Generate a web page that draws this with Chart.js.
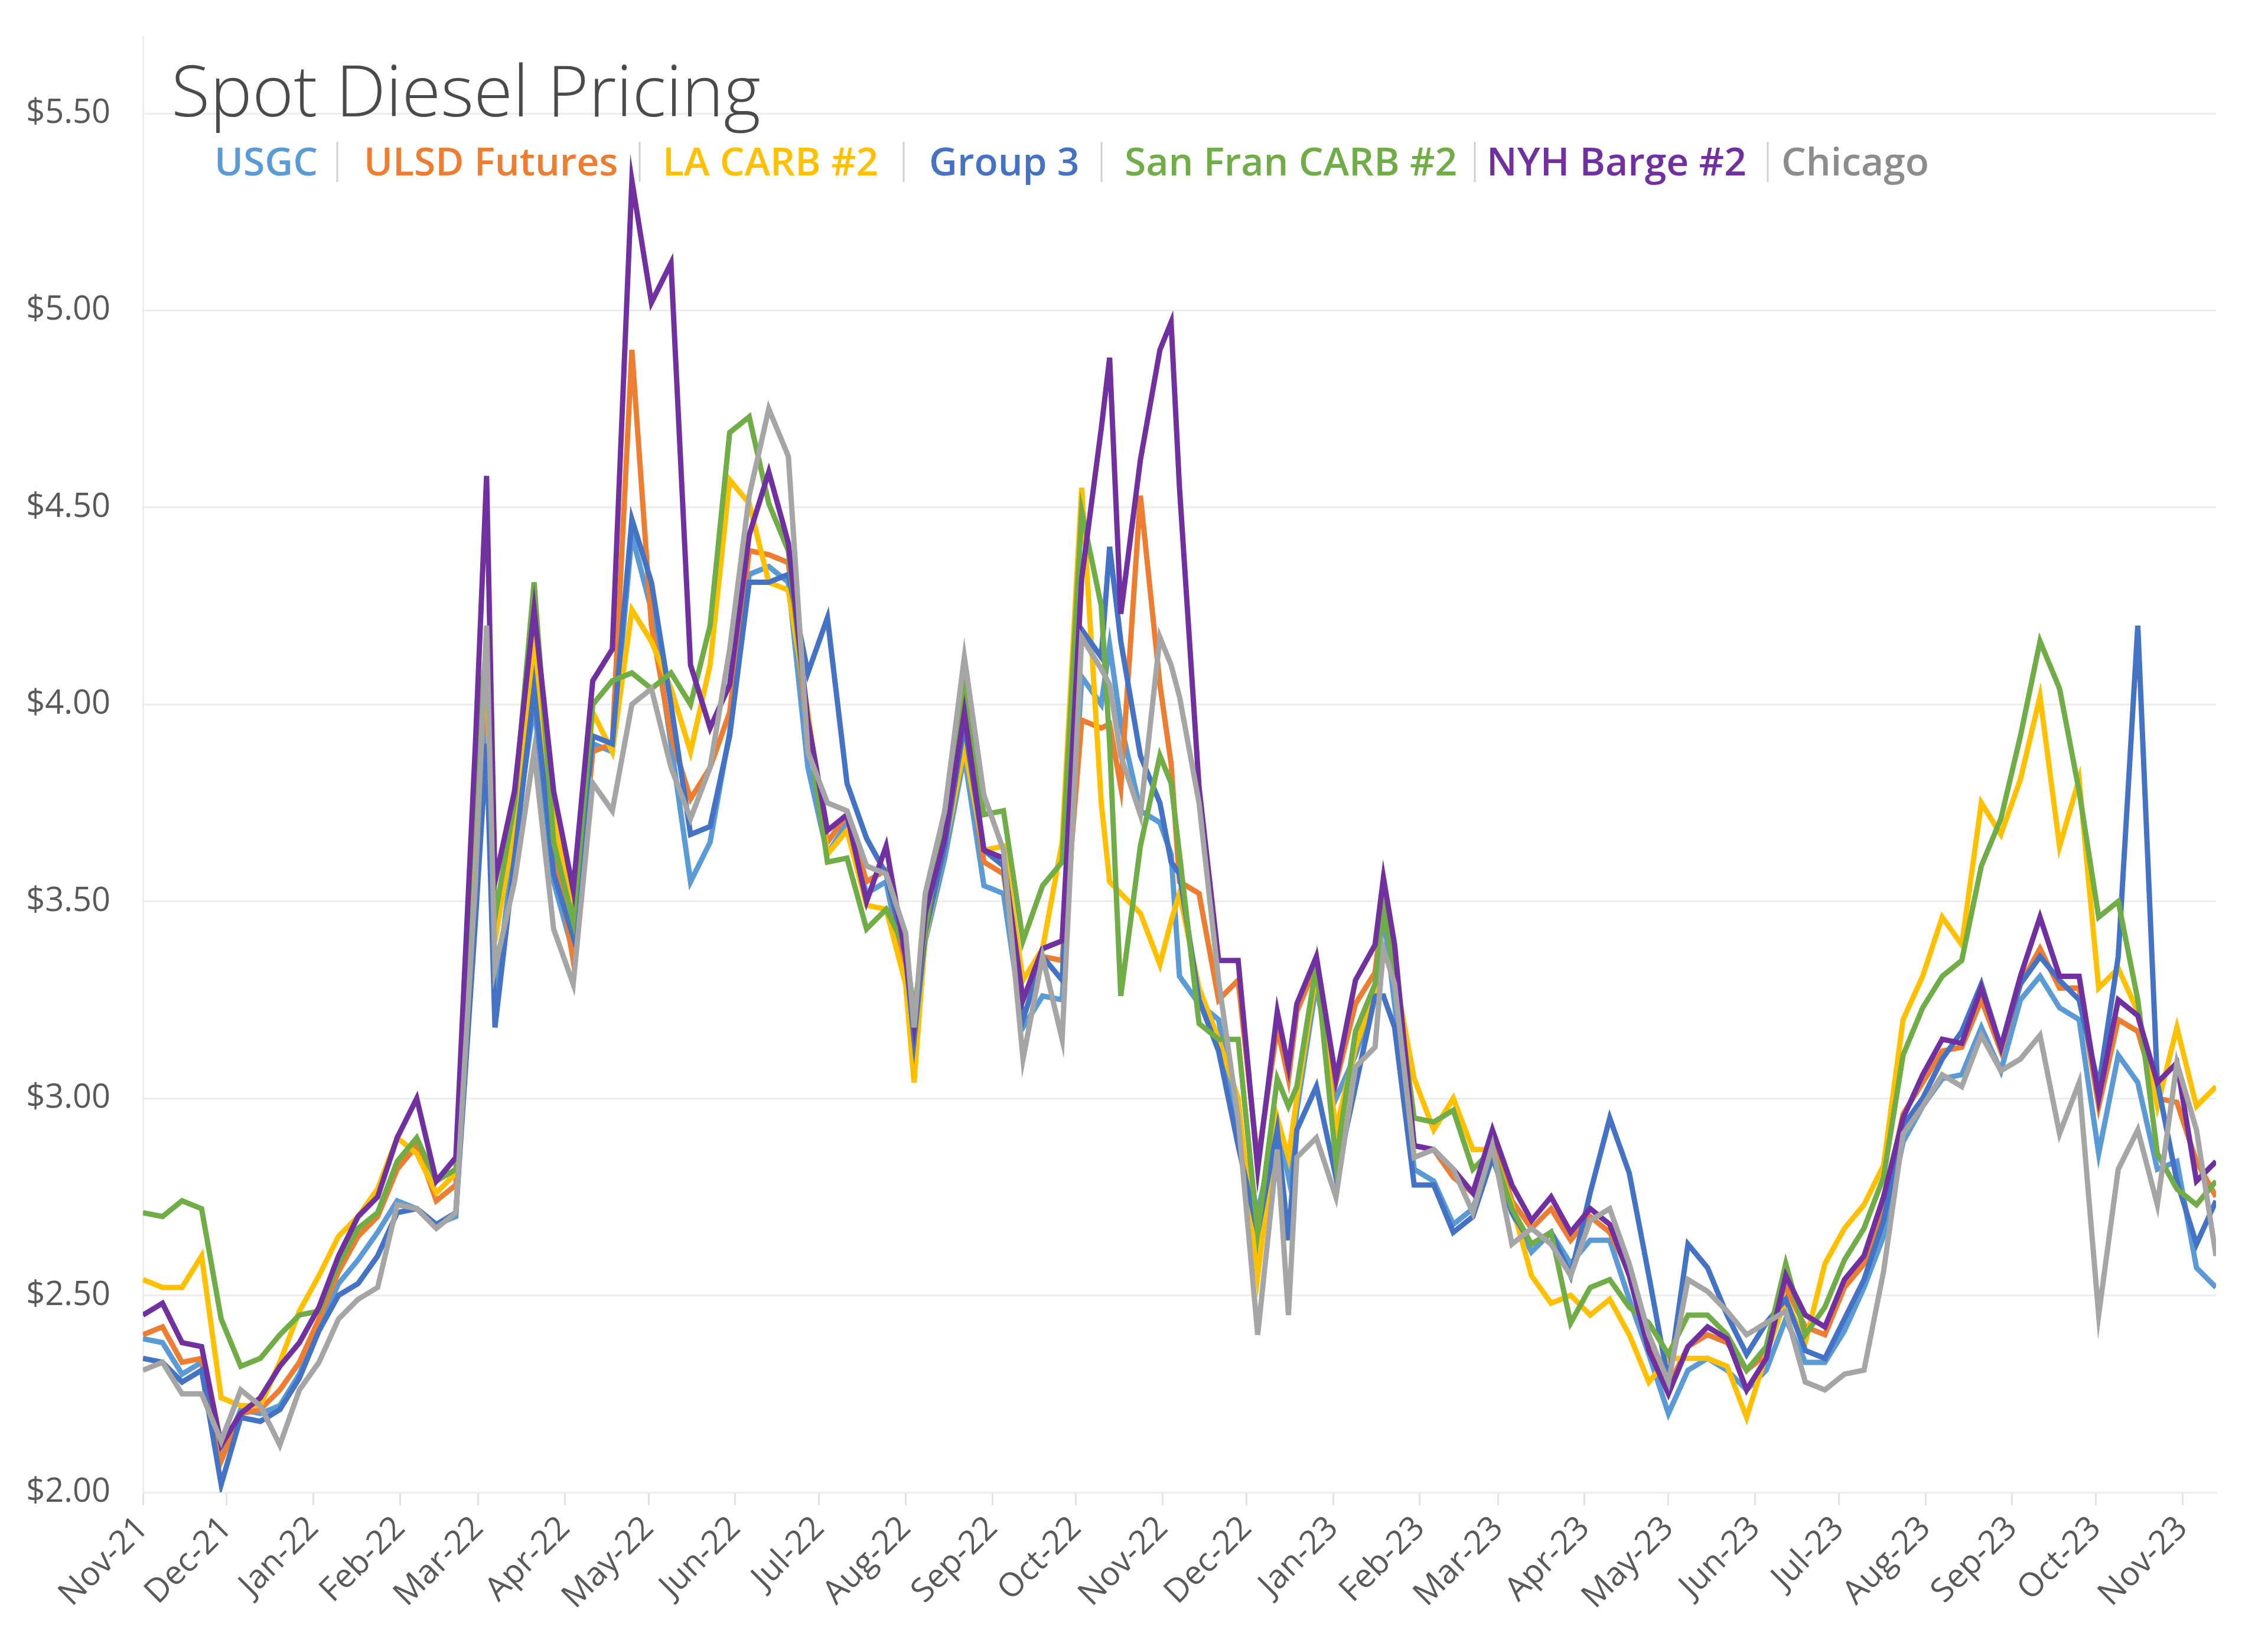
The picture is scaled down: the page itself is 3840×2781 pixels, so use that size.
<!DOCTYPE html>
<html>
<head>
<meta charset="utf-8">
<title>Spot Diesel Pricing</title>
<script src="https://cdn.jsdelivr.net/npm/chart.js@4.4.0/dist/chart.umd.min.js"></script>
<style>
  html, body { margin: 0; padding: 0; background: #ffffff; }
  canvas { display: block; }
</style>
</head>
<body>
<canvas id="diesel-chart" width="3840" height="2781"></canvas>
<script>
/* Sample dates (about weekly, plus a few spike days) */
let sampleDates = [
  '2021-11-01', '2021-11-08', '2021-11-15', '2021-11-22', '2021-11-29', '2021-12-06', '2021-12-13', '2021-12-20',
  '2021-12-27', '2022-01-03', '2022-01-10', '2022-01-17', '2022-01-24', '2022-01-31', '2022-02-07', '2022-02-14',
  '2022-02-21', '2022-02-28', '2022-03-04', '2022-03-07', '2022-03-14', '2022-03-21', '2022-03-28', '2022-04-04',
  '2022-04-11', '2022-04-18', '2022-04-25', '2022-05-02', '2022-05-09', '2022-05-16', '2022-05-23', '2022-05-30',
  '2022-06-06', '2022-06-13', '2022-06-20', '2022-06-27', '2022-07-04', '2022-07-11', '2022-07-18', '2022-07-25',
  '2022-08-01', '2022-08-04', '2022-08-08', '2022-08-15', '2022-08-22', '2022-08-29', '2022-09-05', '2022-09-12',
  '2022-09-19', '2022-09-26', '2022-10-03', '2022-10-10', '2022-10-13', '2022-10-17', '2022-10-24', '2022-10-31',
  '2022-11-04', '2022-11-07', '2022-11-14', '2022-11-21', '2022-11-28', '2022-12-05', '2022-12-12', '2022-12-16',
  '2022-12-19', '2022-12-26', '2023-01-02', '2023-01-09', '2023-01-16', '2023-01-19', '2023-01-23', '2023-01-30',
  '2023-02-06', '2023-02-13', '2023-02-20', '2023-02-27', '2023-03-06', '2023-03-13', '2023-03-20', '2023-03-27',
  '2023-04-03', '2023-04-10', '2023-04-17', '2023-04-24', '2023-05-01', '2023-05-08', '2023-05-15', '2023-05-22',
  '2023-05-29', '2023-06-05', '2023-06-12', '2023-06-19', '2023-06-26', '2023-07-03', '2023-07-10', '2023-07-17',
  '2023-07-24', '2023-07-31', '2023-08-07', '2023-08-14', '2023-08-21', '2023-08-28', '2023-09-04', '2023-09-11',
  '2023-09-18', '2023-09-25', '2023-10-02', '2023-10-09', '2023-10-16', '2023-10-23', '2023-10-30', '2023-11-06',
  '2023-11-13'
]

/* Prices per series, $/gal, one value per sample date */
let usgc = [
  2.39, 2.38, 2.30, 2.33, 2.09, 2.21, 2.20, 2.22, 2.30, 2.42, 2.53, 2.59, 2.66, 2.74, 2.72, 2.68,
  2.70, 3.65, 3.95, 3.25, 3.65, 4.00, 3.55, 3.37, 3.90, 3.88, 4.43, 4.24, 3.90, 3.55, 3.65, 3.93,
  4.33, 4.35, 4.31, 3.84, 3.62, 3.70, 3.52, 3.55, 3.30, 3.13, 3.40, 3.61, 3.87, 3.54, 3.52, 3.18,
  3.26, 3.25, 4.07, 4.00, 4.15, 3.95, 3.73, 3.70, 3.62, 3.31, 3.24, 3.20, 2.92, 2.71, 2.94, 2.80,
  2.97, 3.29, 3.00, 3.11, 3.26, 3.47, 3.24, 2.82, 2.79, 2.68, 2.72, 2.86, 2.71, 2.61, 2.66, 2.58,
  2.64, 2.64, 2.49, 2.35, 2.20, 2.31, 2.34, 2.31, 2.26, 2.31, 2.44, 2.33, 2.33, 2.41, 2.52, 2.65,
  2.89, 2.98, 3.05, 3.06, 3.18, 3.07, 3.25, 3.31, 3.23, 3.20, 2.86, 3.11, 3.04, 2.82, 2.84, 2.57,
  2.52
]
let ulsdFutures = [
  2.40, 2.42, 2.33, 2.34, 2.08, 2.20, 2.21, 2.26, 2.33, 2.44, 2.56, 2.65, 2.70, 2.82, 2.88, 2.74,
  2.78, 3.75, 4.05, 3.45, 3.70, 4.16, 3.65, 3.35, 3.88, 3.90, 4.90, 4.20, 3.92, 3.76, 3.84, 3.98,
  4.39, 4.38, 4.36, 3.92, 3.65, 3.72, 3.55, 3.58, 3.33, 3.17, 3.43, 3.64, 3.94, 3.60, 3.57, 3.25,
  3.36, 3.35, 3.96, 3.94, 3.95, 3.79, 4.53, 4.05, 3.85, 3.55, 3.52, 3.25, 3.30, 2.84, 3.18, 3.05,
  3.22, 3.34, 3.04, 3.24, 3.32, 3.50, 3.32, 2.88, 2.87, 2.80, 2.76, 2.90, 2.74, 2.67, 2.72, 2.64,
  2.70, 2.66, 2.56, 2.39, 2.27, 2.37, 2.40, 2.38, 2.31, 2.35, 2.52, 2.42, 2.40, 2.52, 2.58, 2.73,
  2.96, 3.04, 3.12, 3.13, 3.25, 3.12, 3.29, 3.38, 3.28, 3.28, 2.98, 3.20, 3.17, 3.00, 2.99, 2.84,
  2.75
]
let laCarb2 = [
  2.54, 2.52, 2.52, 2.60, 2.24, 2.22, 2.22, 2.33, 2.46, 2.55, 2.65, 2.70, 2.77, 2.90, 2.86, 2.76,
  2.81, 3.80, 4.10, 3.40, 3.69, 4.14, 3.71, 3.47, 3.98, 3.88, 4.24, 4.16, 4.04, 3.88, 4.10, 4.57,
  4.51, 4.31, 4.29, 3.98, 3.62, 3.68, 3.49, 3.48, 3.29, 3.04, 3.41, 3.64, 3.89, 3.63, 3.64, 3.30,
  3.38, 3.65, 4.55, 3.75, 3.55, 3.52, 3.47, 3.34, 3.45, 3.52, 3.28, 3.15, 3.00, 2.55, 2.95, 2.85,
  3.00, 3.32, 2.92, 3.13, 3.27, 3.50, 3.32, 3.05, 2.92, 3.00, 2.87, 2.87, 2.73, 2.55, 2.48, 2.50,
  2.45, 2.49, 2.40, 2.28, 2.34, 2.34, 2.34, 2.32, 2.19, 2.35, 2.49, 2.38, 2.58, 2.67, 2.73, 2.83,
  3.20, 3.31, 3.46, 3.39, 3.75, 3.67, 3.81, 4.02, 3.64, 3.81, 3.28, 3.33, 3.22, 2.98, 3.18, 2.98,
  3.03
]
let group3 = [
  2.34, 2.33, 2.28, 2.31, 2.02, 2.19, 2.18, 2.21, 2.29, 2.41, 2.50, 2.53, 2.60, 2.71, 2.72, 2.68,
  2.71, 3.45, 3.90, 3.18, 3.61, 4.04, 3.57, 3.41, 3.92, 3.90, 4.47, 4.31, 4.00, 3.67, 3.69, 3.92,
  4.31, 4.31, 4.33, 4.08, 4.22, 3.80, 3.66, 3.57, 3.36, 3.15, 3.42, 3.64, 3.95, 3.63, 3.59, 3.20,
  3.36, 3.30, 4.19, 4.12, 4.40, 4.16, 3.87, 3.75, 3.60, 3.57, 3.25, 3.12, 2.88, 2.66, 2.92, 2.64,
  2.92, 3.03, 2.80, 3.03, 3.26, 3.26, 3.18, 2.78, 2.78, 2.66, 2.70, 2.85, 2.71, 2.63, 2.66, 2.55,
  2.76, 2.95, 2.81, 2.55, 2.28, 2.63, 2.57, 2.45, 2.35, 2.43, 2.49, 2.36, 2.34, 2.44, 2.54, 2.69,
  2.93, 3.00, 3.10, 3.17, 3.29, 3.13, 3.29, 3.36, 3.30, 3.25, 3.03, 3.36, 4.20, 3.04, 2.79, 2.63,
  2.74
]
let sanFranCarb2 = [
  2.71, 2.70, 2.74, 2.72, 2.44, 2.32, 2.34, 2.40, 2.45, 2.46, 2.58, 2.67, 2.71, 2.84, 2.90, 2.79,
  2.82, 3.85, 4.15, 3.46, 3.75, 4.31, 3.65, 3.45, 4.00, 4.06, 4.08, 4.04, 4.08, 4.00, 4.20, 4.69,
  4.73, 4.51, 4.39, 3.94, 3.60, 3.61, 3.43, 3.48, 3.38, 3.22, 3.43, 3.73, 4.03, 3.72, 3.73, 3.40,
  3.54, 3.60, 4.49, 4.25, 3.90, 3.26, 3.64, 3.87, 3.80, 3.62, 3.19, 3.15, 3.15, 2.66, 3.05, 2.98,
  3.03, 3.34, 2.84, 3.17, 3.29, 3.48, 3.32, 2.95, 2.94, 2.97, 2.82, 2.87, 2.72, 2.63, 2.66, 2.43,
  2.52, 2.54, 2.47, 2.43, 2.35, 2.45, 2.45, 2.40, 2.31, 2.37, 2.58, 2.40, 2.47, 2.59, 2.67, 2.80,
  3.11, 3.23, 3.31, 3.35, 3.59, 3.71, 3.92, 4.16, 4.04, 3.78, 3.46, 3.50, 3.25, 2.86, 2.77, 2.73,
  2.79
]
let nyhBarge2 = [
  2.45, 2.48, 2.38, 2.37, 2.12, 2.20, 2.24, 2.32, 2.38, 2.47, 2.60, 2.70, 2.75, 2.90, 3.00, 2.79,
  2.85, 3.90, 4.58, 3.55, 3.78, 4.24, 3.78, 3.53, 4.06, 4.14, 5.33, 5.02, 5.12, 4.10, 3.94, 4.05,
  4.43, 4.59, 4.41, 3.96, 3.68, 3.72, 3.50, 3.64, 3.36, 3.19, 3.47, 3.66, 3.98, 3.63, 3.61, 3.25,
  3.38, 3.40, 4.32, 4.70, 4.88, 4.23, 4.62, 4.90, 4.97, 4.55, 3.79, 3.35, 3.35, 2.82, 3.22, 3.08,
  3.24, 3.36, 3.05, 3.30, 3.39, 3.56, 3.39, 2.88, 2.87, 2.82, 2.76, 2.92, 2.78, 2.69, 2.75, 2.66,
  2.72, 2.68, 2.55, 2.36, 2.25, 2.37, 2.42, 2.39, 2.26, 2.34, 2.55, 2.45, 2.42, 2.54, 2.60, 2.75,
  2.95, 3.06, 3.15, 3.14, 3.28, 3.13, 3.31, 3.46, 3.31, 3.31, 3.00, 3.25, 3.21, 3.04, 3.09, 2.79,
  2.84
]
let chicago = [
  2.31, 2.33, 2.25, 2.25, 2.13, 2.26, 2.22, 2.12, 2.26, 2.33, 2.44, 2.49, 2.52, 2.73, 2.72, 2.67,
  2.71, 3.55, 4.20, 3.33, 3.55, 3.88, 3.43, 3.29, 3.80, 3.73, 4.00, 4.04, 3.84, 3.71, 3.84, 4.14,
  4.53, 4.75, 4.63, 3.88, 3.75, 3.73, 3.59, 3.57, 3.42, 3.18, 3.52, 3.73, 4.12, 3.77, 3.63, 3.10,
  3.36, 3.15, 4.17, 4.09, 4.05, 3.87, 3.72, 4.17, 4.10, 4.02, 3.75, 3.30, 2.95, 2.40, 2.87, 2.45,
  2.85, 2.90, 2.75, 3.08, 3.13, 3.38, 3.29, 2.85, 2.87, 2.82, 2.71, 2.88, 2.63, 2.67, 2.63, 2.55,
  2.69, 2.72, 2.58, 2.40, 2.28, 2.54, 2.51, 2.46, 2.40, 2.43, 2.46, 2.28, 2.26, 2.30, 2.31, 2.56,
  2.91, 2.98, 3.06, 3.03, 3.16, 3.07, 3.10, 3.16, 2.91, 3.04, 2.45, 2.82, 2.92, 2.73, 3.09, 2.92,
  2.60
]

/* Axis ticks */
let tickDates = [
  '2021-11-01', '2021-12-01', '2022-01-01', '2022-02-01', '2022-03-01', '2022-04-01', '2022-05-01',
  '2022-06-01', '2022-07-01', '2022-08-01', '2022-09-01', '2022-10-01', '2022-11-01', '2022-12-01',
  '2023-01-01', '2023-02-01', '2023-03-01', '2023-04-01', '2023-05-01', '2023-06-01', '2023-07-01',
  '2023-08-01', '2023-09-01', '2023-10-01', '2023-11-01'
]
let tickLabels = [
  'Nov-21', 'Dec-21', 'Jan-22', 'Feb-22', 'Mar-22', 'Apr-22', 'May-22', 'Jun-22', 'Jul-22',
  'Aug-22', 'Sep-22', 'Oct-22', 'Nov-22', 'Dec-22', 'Jan-23', 'Feb-23', 'Mar-23', 'Apr-23',
  'May-23', 'Jun-23', 'Jul-23', 'Aug-23', 'Sep-23', 'Oct-23', 'Nov-23'
]
let priceTicks = [2.00, 2.50, 3.00, 3.50, 4.00, 4.50, 5.00, 5.50]

let seriesNames = ['USGC', 'ULSD Futures', 'LA CARB #2', 'Group 3', 'San Fran CARB #2', 'NYH Barge #2', 'Chicago']
let seriesValues = [usgc, ulsdFutures, laCarb2, group3, sanFranCarb2, nyhBarge2, chicago]
let seriesColors = ['#5B9BD5', '#ED7D31', '#FFC000', '#4472C4', '#70AD47', '#7030A0', '#A5A5A5']

// days since the first date, used as the x value
function dayNumber(s) {
    let p = s.split('-')
    return (Date.UTC(+p[0], +p[1] - 1, +p[2]) - Date.UTC(2021, 10, 1)) / 86400000
}

let fontFamily = "'Open Sans', 'Noto Sans', sans-serif"
let labelColor = '#595959'
let gridColor = '#ECECEC'

// building the datasets, later series are drawn on top (like Excel)
let datasets = seriesNames.map(function(name, i) {
    return {
        label: name,
        data: sampleDates.map((d, j) => ({ x: dayNumber(d), y: seriesValues[i][j] })),
        borderColor: seriesColors[i],
        backgroundColor: seriesColors[i],
        borderWidth: 9,
        pointRadius: 0,
        tension: 0,
        order: seriesNames.length - i
    }
})

// title and the text legend with gray bars between names
let headerPlugin = {
    id: 'header',
    afterDraw(chart) {
        let ctx = chart.ctx
        ctx.save()
        ctx.fillStyle = '#4A4A4A'
        ctx.font = '300 120px ' + fontFamily
        ctx.textBaseline = 'alphabetic'
        ctx.textAlign = 'left'
        ctx.fillText('Spot Diesel Pricing', 290, 197, 1004)

        let starts = [363, 616, 1122, 1573, 1904, 2517, 3016]
        let widths = [175, 432, 369, 257, 574, 441, 253]
        let bars = [571, 1083, 1530, 1865, 2497, 2993]
        ctx.font = '600 66px ' + fontFamily
        seriesNames.forEach(function(name, i) {
            ctx.fillStyle = i == 6 ? '#8C8C8C' : seriesColors[i]
            ctx.fillText(name, starts[i], 297, widths[i])
        })
        ctx.strokeStyle = '#D0D0D0'
        ctx.lineWidth = 3
        bars.forEach(function(x) {
            ctx.beginPath()
            ctx.moveTo(x, 240)
            ctx.lineTo(x, 308)
            ctx.stroke()
        })
        ctx.restore()
    }
}

let chartCanvas = document.querySelector('#diesel-chart')
let ctx = chartCanvas.getContext('2d')

let dieselChart = new Chart(ctx, {
    type: 'line',
    data: { datasets: datasets },
    options: {
        responsive: false,
        animation: false,
        devicePixelRatio: 1,
        layout: { padding: { top: 62, right: 88, left: 0, bottom: 0 } },
        plugins: {
            legend: { display: false },
            tooltip: { enabled: false },
            title: { display: false }
        },
        scales: {
            x: {
                type: 'linear',
                min: 0,
                max: dayNumber('2023-11-13'),
                afterBuildTicks: function(scale) {
                    scale.ticks = tickDates.map(d => ({ value: dayNumber(d) }))
                },
                afterFit: function(scale) { scale.height = 255 },
                grid: { drawOnChartArea: false, drawTicks: true, tickLength: 22, tickColor: '#E2E2E2', lineWidth: 3 },
                border: { display: true, color: gridColor, width: 3 },
                ticks: {
                    autoSkip: false,
                    minRotation: 45,
                    maxRotation: 45,
                    padding: 6,
                    color: labelColor,
                    font: { family: fontFamily, size: 56 },
                    callback: function(value, index) { return tickLabels[index] }
                }
            },
            y: {
                min: 2,
                max: 5.695,
                afterBuildTicks: function(scale) {
                    scale.ticks = priceTicks.map(v => ({ value: v }))
                },
                // fixed width, and no extra room above/below for the tick labels
                afterFit: function(scale) {
                    scale.width = 242
                    scale.paddingTop = 0
                    scale.paddingBottom = 0
                },
                grid: { color: gridColor, lineWidth: 3, drawTicks: false },
                border: { display: true, color: gridColor, width: 3 },
                ticks: {
                    padding: 55,
                    color: labelColor,
                    font: { family: fontFamily, size: 56 },
                    callback: function(value) { return '$' + value.toFixed(2) }
                }
            }
        }
    },
    plugins: [headerPlugin]
})
</script>
</body>
</html>
